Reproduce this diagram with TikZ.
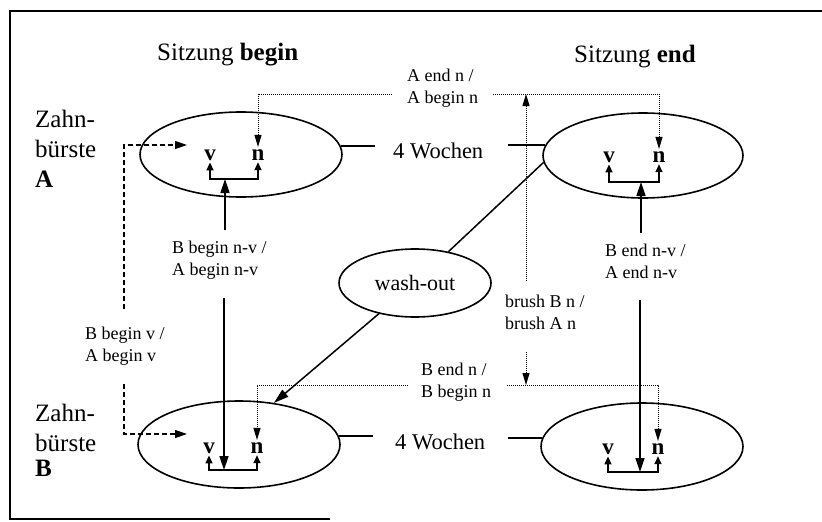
\documentclass[tikz,border=0pt]{standalone}
\usepackage{fontspec}
\setmainfont{Liberation Serif}
\usetikzlibrary{shapes.geometric,arrows.meta}
\begin{document}
\begin{tikzpicture}[x=1pt,y=-1pt,
  ell/.style={ellipse,draw,line width=1.6pt,inner sep=0pt},
  lbl/.style={font=\fontsize{18}{22}\selectfont,align=left,inner sep=0pt,anchor=base west},
  head/.style={font=\fontsize{25}{30}\selectfont,inner sep=0pt,anchor=base west},
  wk/.style={font=\fontsize{22.5}{27}\selectfont,inner sep=0pt,anchor=base west},
  let/.style={font=\bfseries\fontsize{23}{27}\selectfont,inner sep=2pt,anchor=base},
  sline/.style={line width=1.5pt},
  bigtip/.style={-{Triangle[length=14pt,width=9pt]}},
  smtip/.style={-{Triangle[length=8pt,width=7pt]}},
  dtip/.style={-{Triangle[length=12pt,width=7pt]}},
  dashtip/.style={-{Triangle[length=12pt,width=8pt]}},
  diagtip/.style={-{Triangle[length=15pt,width=9pt]}},
  dotl/.style={line width=1pt,dash pattern=on 1pt off 1pt},
  dashl/.style={line width=1.3pt,dash pattern=on 5pt off 3pt}
]
\useasboundingbox (0,0) rectangle (822,522);
\draw[line width=2pt] (822,11) -- (10,11) -- (10,519) -- (330,519);

% headings (base anchor = baseline of the last line)
\node[head] (HB) at (157,60) {Sitzung \textbf{begin}};
\node[head] (HE) at (574,62) {Sitzung \textbf{end}};
\node[head,align=left] (ZA) at (35,187) {Zahn-\\bürste\\\textbf{A}};
\node[head,align=left] (ZB) at (35,476) {Zahn-\\bürste\\[-5pt]\textbf{B}};

% ellipses
\node[ell,minimum width=202pt,minimum height=85pt] (Ab) at (241,154.5) {};
\node[ell,minimum width=200pt,minimum height=85pt] (Ae) at (643,155.5) {};
\node[ell,minimum width=202pt,minimum height=87pt] (Bb) at (239,444.5) {};
\node[ell,minimum width=202pt,minimum height=87pt] (Be) at (642,446.5) {};

% letters
\node[let] (Av) at (210,160) {v};  \node[let] (An) at (258,160) {n};
\node[let] (Aev) at (609,162) {v}; \node[let] (Aen) at (659,162) {n};
\node[let] (Bv) at (209,453) {v};  \node[let] (Bn) at (257,453) {n};
\node[let] (Bev) at (608,454) {v}; \node[let] (Ben) at (658,454) {n};

% brackets
\coordinate (AbB) at (225,179);
\coordinate (AeB) at (641,182);
\coordinate (BbB) at (224,470);
\coordinate (BeB) at (640,472);
\draw[sline,smtip] (AbB) -| (Av.south); \draw[sline,smtip] (AbB) -| (An.south);
\draw[sline,smtip] (AeB) -| (Aev.south); \draw[sline,smtip] (AeB) -| (Aen.south);
\draw[sline,smtip] (BbB) -| (Bv.south); \draw[sline,smtip] (BbB) -| (Bn.south);
\draw[sline,smtip] (BeB) -| (Bev.south); \draw[sline,smtip] (BeB) -| (Ben.south);

% 4 Wochen
\node[wk] (WA) at (393,158) {4 Wochen};
\node[wk] (WB) at (395,449) {4 Wochen};
\draw[sline] (Ab.5) -- ([xshift=-18pt]Ab.5 -| WA.west);
\draw[sline] (Ae.174) -- ([xshift=25pt]Ae.174 -| WA.east);
\draw[sline] (Bb.5) -- ([xshift=-22pt]Bb.5 -| WB.west);
\draw[sline] (Be.175) -- ([xshift=23pt]Be.175 -| WB.east);

% labels (base = last line)
\node[lbl] (LA) at (407,103) {A end n /\\A begin n};
\node[lbl] (LAb) at (172,275) {B begin n-v /\\A begin n-v};
\node[lbl] (LAe) at (605,278) {B end n-v /\\A end n-v};
\node[lbl] (LBr) at (505,329) {brush B n /\\brush A n};
\node[lbl] (LB) at (421,397) {B end n /\\B begin n};
\node[lbl] (LD) at (85,361) {B begin v /\\A begin v};

% solid n-v arrows
\draw[sline,bigtip] ([yshift=10pt]LAb.north -| AbB) -- (AbB);
\draw[sline,bigtip] ([yshift=-19pt]LAb.south -| BbB) -- (BbB);
\draw[sline,bigtip] ([yshift=10pt]LAe.north -| AeB) -- (AeB);
\draw[sline,bigtip] ([yshift=-22pt]LAe.south -| BeB) -- (BeB);

% dotted n connectors
\coordinate (LAl) at (392,94); \coordinate (LAr) at (493,94); \coordinate (BrU) at (526,94);
\draw[dotl,dtip] (LAl) -| (An.north);
\draw[dotl,dtip] (LAr) -| (Aen.north);
\draw[dotl,dtip] ([yshift=13pt]LBr.north -| BrU) -- (BrU);
\coordinate (LBl) at (408,385); \coordinate (LBrr) at (507,385); \coordinate (BrD) at (526,385);
\draw[dotl,dtip] ([yshift=-23pt]LBr.south -| BrD) -- (BrD);
\draw[dotl,dtip] (LBl) -| (Bn.north);
\draw[dotl,dtip] (LBrr) -| (Ben.north);

% dashed v connectors
\coordinate (DA) at (124,145); \coordinate (DtA) at (187,145);
\coordinate (DB) at (124,434); \coordinate (DtB) at (187,434);
\draw[dashl,dashtip] ([yshift=17pt]LD.north -| DA) -- (DA) -- (DtA);
\draw[dashl,dashtip] ([yshift=-19pt]LD.south -| DB) -- (DB) -- (DtB);

% wash-out
\node[ell,minimum width=152pt,minimum height=68pt,font=\fontsize{22}{26}\selectfont] (W) at (415,283) {wash-out};
\draw[sline] (Ae.184) -- (W);
\draw[sline,diagtip] (W) -- (Bb.50);
\end{tikzpicture}
\end{document}
